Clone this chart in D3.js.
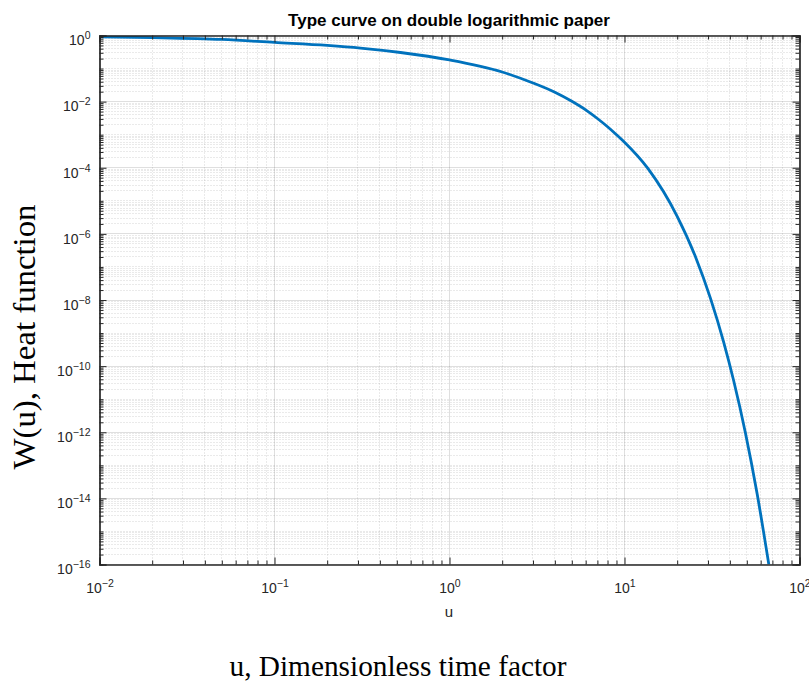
<!DOCTYPE html>
<html>
<head>
<meta charset="utf-8">
<script src="https://cdn.jsdelivr.net/npm/d3@7"></script>
<style>
    body { margin: 0; background: #fff; }
</style>
</head>
<body>
<div id="chart"></div>
<script>
// curve values
const uValues = [0.01, 0.02, 0.05, 0.1, 0.2, 0.31, 0.525, 1, 2, 3, 4, 5, 6, 7, 8, 9, 10,
    13.6, 20, 25.5, 31, 36.9, 42.1, 49.1, 57.3, 66.8];
const wValues = [0.91, 0.861, 0.759, 0.617, 0.501, 0.417, 0.306, 0.182, 0.0787, 0.0366, 0.0193,
    0.0103, 5.66e-3, 3.09e-3, 1.74e-3, 1.0e-3, 5.93e-4, 9.55e-5, 3.39e-6, 1.97e-7, 1.12e-8,
    5.25e-10, 3.55e-11, 9.55e-13, 1.35e-14, 1.0e-16];

// major ticks and their exponent labels
const xMajor = [1e-2, 1e-1, 1e0, 1e1, 1e2];
const xExponents = ["-2", "-1", "0", "1", "2"];
const yMajor = [1e-16, 1e-14, 1e-12, 1e-10, 1e-8, 1e-6, 1e-4, 1e-2, 1e0];
const yExponents = ["-16", "-14", "-12", "-10", "-8", "-6", "-4", "-2", "0"];

const titleText = "Type curve on double logarithmic paper";
const xLabelText = "u";
const xLabel2Text = "u, Dimensionless time factor";
const yLabelText = "W(u), Heat function";

const W = 809, H = 682;
const margin = { top: 35, right: 10, bottom: 118, left: 99 };
const width = W - margin.left - margin.right;
const height = H - margin.top - margin.bottom;

const svg = d3.select("#chart").append("svg")
    .attr("width", W)
    .attr("height", H);

const g = svg.append("g")
    .attr("transform", "translate(" + (margin.left + 0.5) + "," + (margin.top + 0.5) + ")");

const x = d3.scaleLog().domain([1e-2, 1e2]).range([0, width]);
const y = d3.scaleLog().domain([1e-16, 1e0]).range([height, 0]);

// minor positions from the scale's own ticks
const xMinor = x.ticks(20).filter(d => !xMajor.some(m => Math.abs(m - d) / m < 1e-6));
const yMinor = y.ticks(40).filter(d => !yMajor.some(m => Math.abs(m - d) / m < 1e-6));

// grid
const grid = g.append("g").attr("class", "grid");
grid.selectAll(".xminor").data(xMinor).enter().append("line")
    .attr("x1", d => Math.round(x(d))).attr("x2", d => Math.round(x(d)))
    .attr("y1", 0).attr("y2", height)
    .attr("stroke", "#262626").attr("stroke-opacity", 0.25)
    .attr("stroke-width", 0.8).attr("stroke-dasharray", "1,2");
grid.selectAll(".yminor").data(yMinor).enter().append("line")
    .attr("x1", 0).attr("x2", width)
    .attr("y1", d => Math.round(y(d))).attr("y2", d => Math.round(y(d)))
    .attr("stroke", "#262626").attr("stroke-opacity", 0.25)
    .attr("stroke-width", 0.8).attr("stroke-dasharray", "1,2");
grid.selectAll(".xmajor").data(xMajor).enter().append("line")
    .attr("x1", d => Math.round(x(d))).attr("x2", d => Math.round(x(d)))
    .attr("y1", 0).attr("y2", height)
    .attr("stroke", "#262626").attr("stroke-opacity", 0.15);
grid.selectAll(".ymajor").data(yMajor).enter().append("line")
    .attr("x1", 0).attr("x2", width)
    .attr("y1", d => Math.round(y(d))).attr("y2", d => Math.round(y(d)))
    .attr("stroke", "#262626").attr("stroke-opacity", 0.15);

// curve
const points = uValues.map((u, i) => ({ u: u, w: wValues[i] }));

svg.append("defs").append("clipPath").attr("id", "clip")
    .append("rect").attr("width", width).attr("height", height);

const line = d3.line()
    .x(d => x(d.u))
    .y(d => y(d.w))
    .curve(d3.curveMonotoneX);

g.append("path")
    .datum(points)
    .attr("clip-path", "url(#clip)")
    .attr("fill", "none")
    .attr("stroke", "#0072BD")
    .attr("stroke-width", 2.8)
    .attr("d", line);

// axes: inward ticks on all four sides
function styleAxis(sel) {
    sel.selectAll("path, line").attr("stroke", "#262626");
    sel.select(".domain").attr("stroke-width", 1.2);
}

const xAxis = d3.axisBottom(x).tickValues(xMajor).tickSize(-7).tickPadding(19).tickFormat("");
const xAxisMinor = d3.axisBottom(x).tickValues(xMinor).tickSize(-4).tickFormat("");
const xAxisTop = d3.axisTop(x).tickValues(xMajor).tickSize(-7).tickFormat("");
const xAxisTopMinor = d3.axisTop(x).tickValues(xMinor).tickSize(-4).tickFormat("");
const yAxis = d3.axisLeft(y).tickValues(yMajor).tickSize(-7).tickPadding(9).tickFormat("");
const yAxisMinor = d3.axisLeft(y).tickValues(yMinor).tickSize(-4).tickFormat("");
const yAxisRight = d3.axisRight(y).tickValues(yMajor).tickSize(-7).tickFormat("");
const yAxisRightMinor = d3.axisRight(y).tickValues(yMinor).tickSize(-4).tickFormat("");

g.append("g").attr("transform", "translate(0," + height + ")").call(xAxisMinor).call(styleAxis);
const xg = g.append("g").attr("transform", "translate(0," + height + ")").call(xAxis).call(styleAxis);
g.append("g").call(xAxisTopMinor).call(styleAxis);
g.append("g").call(xAxisTop).call(styleAxis);
g.append("g").call(yAxisMinor).call(styleAxis);
const yg = g.append("g").call(yAxis).call(styleAxis);
g.append("g").attr("transform", "translate(" + width + ",0)").call(yAxisRightMinor).call(styleAxis);
g.append("g").attr("transform", "translate(" + width + ",0)").call(yAxisRight).call(styleAxis);

// power-of-ten labels with superscripts
function powerLabel(sel, exps, dy) {
    sel.attr("font-size", null).attr("font-family", null);
    sel.selectAll(".tick text")
        .attr("fill", "#262626")
        .attr("dy", dy)
        .attr("font-family", "'Liberation Sans', Arial, sans-serif")
        .attr("font-size", 14)
        .each(function (d, i) {
            const t = d3.select(this);
            t.append("tspan").attr("font-size", 14).text("10");
            t.append("tspan").attr("dy", -6).attr("font-size", 10.5)
                .text(exps[i].replace("-", "\u2212"));
        });
}
powerLabel(xg, xExponents, "0.68em");
powerLabel(yg, yExponents, "0.66em");

// title and labels
svg.append("text")
    .attr("x", margin.left + width / 2)
    .attr("y", 26)
    .attr("text-anchor", "middle")
    .style("font-family", "'Liberation Sans', Arial, sans-serif")
    .style("font-size", "17px")
    .style("font-weight", "bold")
    .attr("fill", "#000")
    .text(titleText);

svg.append("text")
    .attr("x", margin.left + width / 2)
    .attr("y", 617)
    .attr("text-anchor", "middle")
    .style("font-family", "'Liberation Sans', Arial, sans-serif")
    .style("font-size", "15px")
    .attr("fill", "#262626")
    .text(xLabelText);

svg.append("text")
    .attr("x", 398)
    .attr("y", 676)
    .attr("text-anchor", "middle")
    .attr("textLength", 337)
    .attr("lengthAdjust", "spacingAndGlyphs")
    .style("font-family", "'Liberation Serif', 'Times New Roman', serif")
    .style("font-size", "29px")
    .attr("fill", "#000")
    .text(xLabel2Text);

svg.append("text")
    .attr("transform", "translate(35,337) rotate(-90)")
    .attr("text-anchor", "middle")
    .attr("textLength", 265)
    .attr("lengthAdjust", "spacingAndGlyphs")
    .style("font-family", "'Liberation Serif', 'Times New Roman', serif")
    .style("font-size", "32px")
    .attr("fill", "#000")
    .text(yLabelText);
</script>
</body>
</html>
